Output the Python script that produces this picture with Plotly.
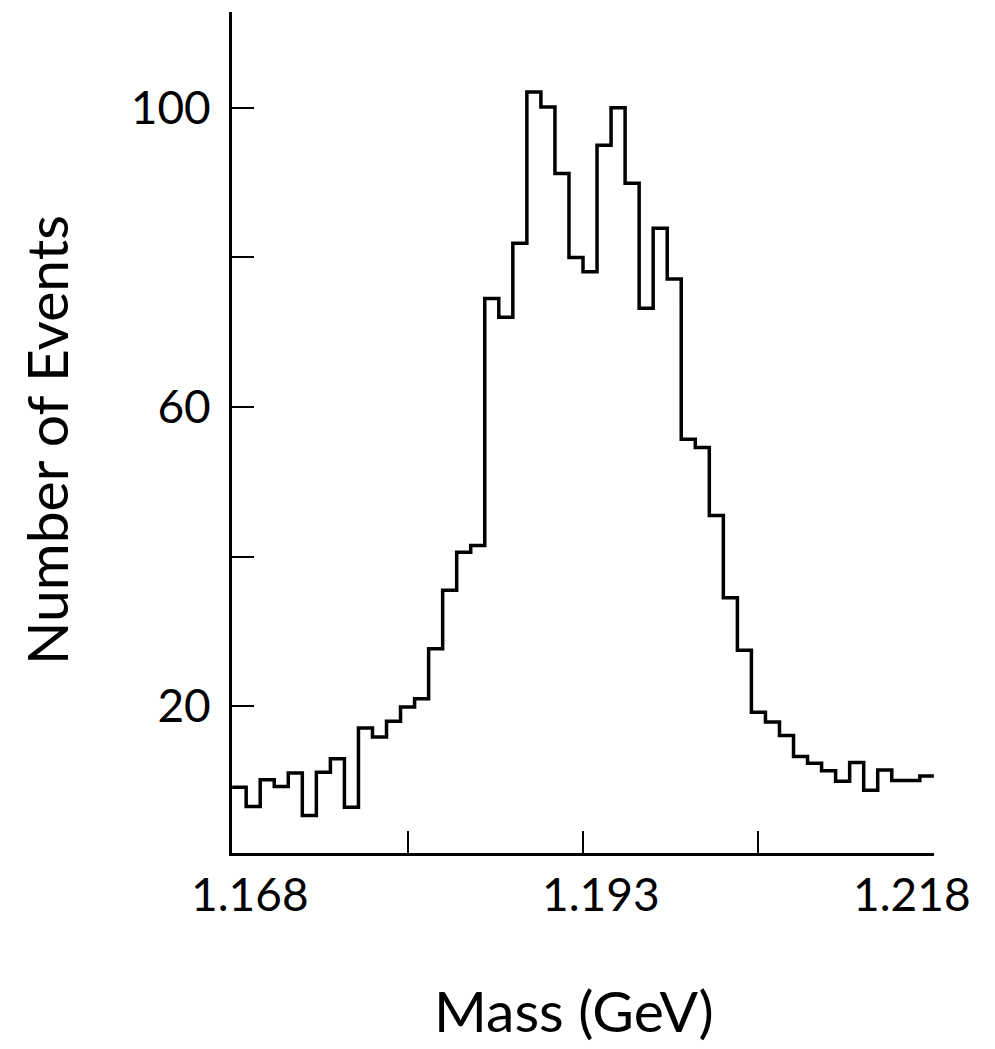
import plotly.graph_objects as go

# Histogram of mass, bins of 0.001 GeV from 1.168 to 1.218
bin_start = 1.168
bin_width = 0.001
counts = [9.2, 6.6, 10.2, 9.3, 11.1, 5.4, 11.2, 13.0, 6.5, 17.1,
          15.9, 18.0, 19.9, 21.0, 27.7, 35.5, 40.6, 41.5, 74.5, 72.0,
          81.9, 102.1, 100.1, 91.2, 80.0, 78.1, 95.0, 100.0, 89.9, 73.2,
          83.9, 77.1, 55.7, 54.6, 45.5, 34.5, 27.5, 19.2, 17.9, 16.1,
          13.3, 12.4, 11.4, 10.0, 12.5, 8.8, 11.5, 10.1, 10.1, 10.7]

x_tickvals = [1.168, 1.1805, 1.193, 1.2055, 1.218]
x_ticktext = ["1.168", "", "1.193", "", "1.218"]
y_tickvals = [20, 40, 60, 80, 100]
y_ticktext = ["20", "", "60", "", "100"]

edges = [round(bin_start + bin_width * i, 4) for i in range(len(counts) + 1)]
ys = counts + [counts[-1]]

fig = go.Figure()
fig.add_trace(go.Scatter(x=edges, y=ys, mode="lines", line_shape="hv",
                         line=dict(color="black", width=3.5), hoverinfo="skip",
                         cliponaxis=False))

tick_font = dict(family="Lato, sans-serif", size=46, color="black")
title_font = dict(family="Lato, sans-serif", size=57, color="black")

# x tick labels drawn as annotations so the last one stays inside the page
label_shift = {0: 18, 2: 18, 4: -22}
annotations = []
for i, (v, t) in enumerate(zip(x_tickvals, x_ticktext)):
    if t:
        annotations.append(dict(text=t, x=v, xref="x", y=-0.0476, yref="paper",
                                xanchor="center", yanchor="middle", showarrow=False,
                                xshift=label_shift.get(i, 0), font=tick_font))
annotations += [
    dict(text="Mass (GeV)", xref="paper", yref="paper", x=0.487, y=-0.187,
         xanchor="center", yanchor="middle", showarrow=False, font=title_font),
    dict(text="Number of Events", xref="paper", yref="paper", x=-0.265, y=0.491,
         xanchor="center", yanchor="middle", textangle=-90, showarrow=False,
         font=title_font),
]

fig.update_layout(
    width=987, height=1041,
    margin=dict(l=224, r=61, t=4, b=196),
    paper_bgcolor="white", plot_bgcolor="white",
    showlegend=False,
    xaxis=dict(range=[1.16799, 1.21801], showgrid=False, zeroline=False,
               showline=True, linecolor="black", linewidth=3, mirror=False,
               ticks="inside", ticklen=22, tickwidth=2, tickcolor="black",
               tickvals=x_tickvals, showticklabels=False),
    yaxis=dict(range=[0.4, 112.8], showgrid=False, zeroline=False,
               showline=True, linecolor="black", linewidth=3, mirror=False,
               ticks="inside", ticklen=22, tickwidth=2, tickcolor="black",
               tickvals=y_tickvals, ticktext=y_ticktext, tickfont=tick_font,
               ticklabelstandoff=9),
    annotations=annotations,
)

fig.write_html("out.html")
